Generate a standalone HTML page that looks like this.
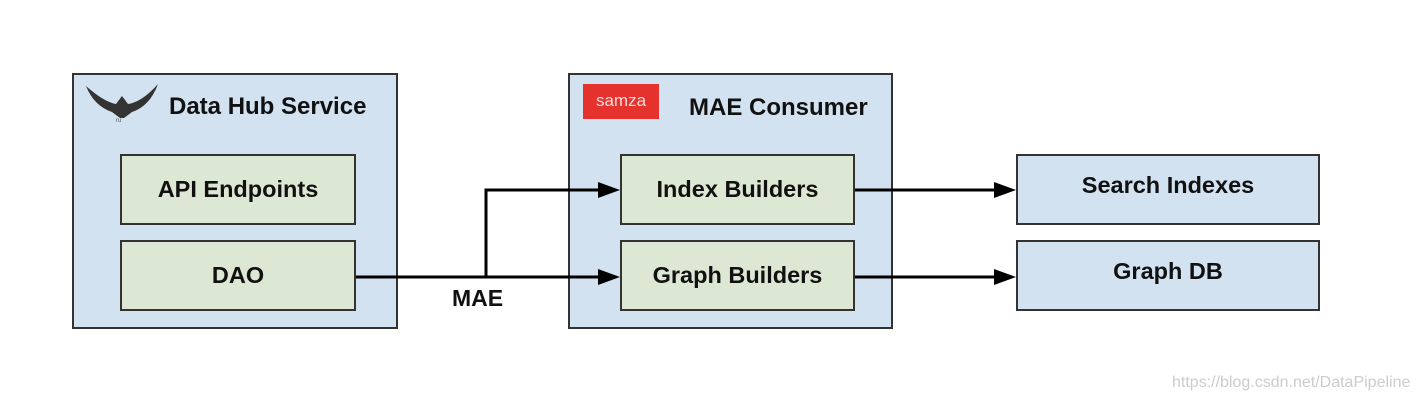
<!DOCTYPE html>
<html><head><style>
body{margin:0;width:1418px;height:400px;background:#fff;position:relative;overflow:hidden;font-family:"Liberation Sans",sans-serif;}
.b{position:absolute;box-sizing:border-box;border:2px solid #333;}
.o{background:#d3e2f1;}
.g{background:#dce8d3;display:flex;align-items:center;justify-content:center;font-weight:bold;font-size:23.5px;color:#111;}
.t{position:absolute;font-weight:bold;font-size:24px;color:#111;}
</style></head><body>
<div class="b o" style="left:72px;top:73px;width:326px;height:256px"></div>
<div class="b o" style="left:568px;top:73px;width:325px;height:256px"></div>
<div class="t" style="left:169px;top:93px">Data Hub Service</div>
<div class="t" style="left:689px;top:94px">MAE Consumer</div>
<div style="position:absolute;left:583px;top:84px;width:76px;height:35px;background:#e5322d;color:#fbdcdc;font-size:17px;text-align:center;line-height:33px">samza</div>
<svg style="position:absolute;left:84px;top:82px" width="76" height="42"><path d="M2 4 Q20 20 32 22 L38 14 L44 22 Q58 20 74 2 Q66 24 48 30 L40 36 L36 36 L28 30 Q10 24 2 4Z" fill="#333"/><text x="32" y="40" font-size="6" fill="#555">ru</text></svg>
<div class="b g" style="left:120px;top:154px;width:236px;height:71px">API Endpoints</div>
<div class="b g" style="left:120px;top:240px;width:236px;height:71px">DAO</div>
<div class="b g" style="left:620px;top:154px;width:235px;height:71px">Index Builders</div>
<div class="b g" style="left:620px;top:240px;width:235px;height:71px">Graph Builders</div>
<div class="b o g" style="left:1016px;top:154px;width:304px;height:71px;background:#d3e2f1;padding-bottom:8px">Search Indexes</div>
<div class="b o g" style="left:1016px;top:240px;width:304px;height:71px;background:#d3e2f1;padding-bottom:8px">Graph DB</div>
<svg style="position:absolute;left:0;top:0" width="1418" height="400">
<g stroke="#000" stroke-width="3" fill="none">
<path d="M356 277 H602"/><path d="M486 277 V190 H602"/>
<path d="M855 190 H998"/><path d="M855 277 H998"/>
</g>
<g fill="#000">
<path d="M620 190 L598 182 L598 198Z"/><path d="M620 277 L598 269 L598 285Z"/>
<path d="M1016 190 L994 182 L994 198Z"/><path d="M1016 277 L994 269 L994 285Z"/>
</g>
<text x="452" y="306" font-family="Liberation Sans" font-weight="bold" font-size="23" fill="#111">MAE</text>
<text x="1172" y="387" font-family="Liberation Sans" font-size="16" fill="#ccc">https://blog.csdn.net/DataPipeline</text>
</svg>
</body></html>
